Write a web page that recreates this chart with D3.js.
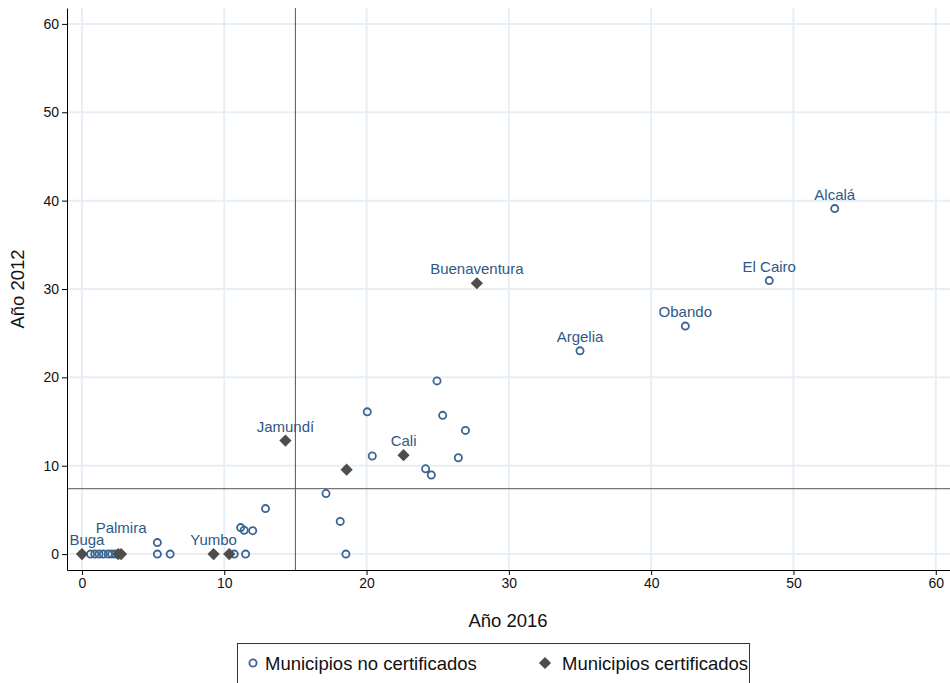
<!DOCTYPE html>
<html>
<head>
<meta charset="utf-8">
<script src="https://cdn.jsdelivr.net/npm/d3@7"></script>
<style>
body { margin: 0; background: #fff; }
svg text { font-family: "Liberation Sans", Arial, sans-serif; }
.axis path, .axis line { stroke: #000; }
.axis text { font-size: 14px; fill: #111; }
</style>
</head>
<body>
<div id="chart"></div>
<script>
// Municipios no certificados: [Año 2016, Año 2012]
var noCertX = [0.6, 0.9, 1.2, 1.5, 1.85, 2.1, 2.35, 5.3, 5.3, 6.2, 10.7, 11.5, 11.15, 11.4, 12.0, 12.9, 17.15, 18.15, 18.55, 20.05, 20.4, 24.95, 25.35, 26.95, 26.45, 24.15, 24.55, 35.0, 42.4, 48.3, 52.9];
var noCertY = [0, 0, 0, 0, 0, 0, 0, 1.3, 0, 0, 0, 0, 3.0, 2.7, 2.65, 5.15, 6.85, 3.7, 0, 16.1, 11.1, 19.6, 15.7, 14.0, 10.9, 9.65, 8.95, 23.0, 25.8, 30.95, 39.1];
var noCertName = ["", "", "", "", "", "", "", "", "", "", "", "", "", "", "", "", "", "", "", "", "", "", "", "", "", "", "", "Argelia", "Obando", "El Cairo", "Alcalá"];

// Municipios certificados
var certX = [0, 2.55, 2.75, 9.25, 10.35, 14.3, 18.6, 22.6, 27.75];
var certY = [0, 0, 0, 0, 0, 12.85, 9.55, 11.2, 30.65];
var certName = ["Buga", "", "Palmira", "Yumbo", "", "Jamundí", "", "Cali", "Buenaventura"];

var ticks = [0, 10, 20, 30, 40, 50, 60];
var refX = 15;   // vertical reference line
var refY = 7.4;  // horizontal reference line

var w = 950;
var h = 683;
var blue = "#3a6591";
var labelBlue = "#2f5885";
var gray = "#4d4d4d";

var svg = d3.select("#chart").append("svg").attr("width", w).attr("height", h);

var xScale = d3.scaleLinear().domain([-1.05, 61]).range([67, 950]);
var yScale = d3.scaleLinear().domain([-1.8, 61.8]).range([570, 8]);

// grid lines
svg.selectAll(".gridX").data(ticks).enter().append("line")
    .attr("x1", function(d) { return xScale(d); })
    .attr("x2", function(d) { return xScale(d); })
    .attr("y1", yScale.range()[1]).attr("y2", yScale.range()[0])
    .style("stroke", "#e8eff4").style("stroke-width", 2);
svg.selectAll(".gridY").data(ticks).enter().append("line")
    .attr("y1", function(d) { return yScale(d); })
    .attr("y2", function(d) { return yScale(d); })
    .attr("x1", xScale.range()[0]).attr("x2", xScale.range()[1])
    .style("stroke", "#e8eff4").style("stroke-width", 2);

// reference lines
svg.append("line")
    .attr("x1", xScale(refX)).attr("x2", xScale(refX))
    .attr("y1", yScale.range()[1]).attr("y2", yScale.range()[0])
    .style("stroke", "#555").style("stroke-width", 1);
svg.append("line")
    .attr("x1", xScale.range()[0]).attr("x2", xScale.range()[1])
    .attr("y1", yScale(refY)).attr("y2", yScale(refY))
    .style("stroke", "#555").style("stroke-width", 1);

// axes
var xAxis = d3.axisBottom(xScale).tickValues(ticks).tickSize(5).tickPadding(3).tickSizeOuter(0);
var yAxis = d3.axisLeft(yScale).tickValues(ticks).tickSize(5).tickPadding(3).tickSizeOuter(0);
svg.append("g").attr("class", "axis").attr("transform", "translate(0," + yScale.range()[0] + ")").call(xAxis);
svg.append("g").attr("class", "axis").attr("transform", "translate(" + xScale.range()[0] + ",0)").call(yAxis);

// points: no certificados (hollow circles)
svg.selectAll(".noCert").data(noCertX).enter().append("circle")
    .attr("cx", function(d) { return xScale(d); })
    .attr("cy", function(d, i) { return yScale(noCertY[i]); })
    .attr("r", 3.6)
    .style("fill", "none").style("stroke", blue).style("stroke-width", 1.8);

// points: certificados (diamonds)
var diamond = d3.symbol().type(d3.symbolDiamond2).size(95);
svg.selectAll(".cert").data(certX).enter().append("path")
    .attr("d", diamond)
    .attr("transform", function(d, i) { return "translate(" + xScale(d) + "," + yScale(certY[i]) + ")"; })
    .style("fill", gray);

// marker labels
function addLabels(xs, ys, names) {
    svg.selectAll(null).data(names).enter().filter(function(d) { return d != ""; }).append("text")
        .attr("x", function(d) { var i = names.indexOf(d); return xScale(xs[i]) + (d == "Buga" ? 5 : 0); })
        .attr("y", function(d) { var i = names.indexOf(d); return yScale(ys[i]) - (d == "Palmira" ? 21 : 9); })
        .attr("text-anchor", "middle")
        .style("font-size", "15px").style("fill", labelBlue)
        .text(function(d) { return d; });
}
addLabels(noCertX, noCertY, noCertName);
addLabels(certX, certY, certName);

// axis titles
svg.append("text").attr("x", 508).attr("y", 627)
    .attr("text-anchor", "middle").style("font-size", "18.5px").style("fill", "#111").text("Año 2016");
svg.append("text").attr("transform", "translate(24," + yScale(30) + ") rotate(-90)")
    .attr("text-anchor", "middle").style("font-size", "18.5px").style("fill", "#111").text("Año 2012");

// legend
var legend = svg.append("g");
legend.append("rect").attr("x", 237.5).attr("y", 643.5).attr("width", 512).attr("height", 45)
    .style("fill", "#fff").style("stroke", "#333").style("stroke-width", 1);
legend.append("circle").attr("cx", 253).attr("cy", 663).attr("r", 3.6)
    .style("fill", "none").style("stroke", blue).style("stroke-width", 1.8);
legend.append("text").attr("x", 265).attr("y", 670).style("font-size", "18.5px").style("fill", "#111")
    .text("Municipios no certificados");
legend.append("path").attr("d", diamond).attr("transform", "translate(545,663)").style("fill", gray);
legend.append("text").attr("x", 562).attr("y", 670).style("font-size", "18.5px").style("fill", "#111")
    .text("Municipios certificados");
</script>
</body>
</html>
